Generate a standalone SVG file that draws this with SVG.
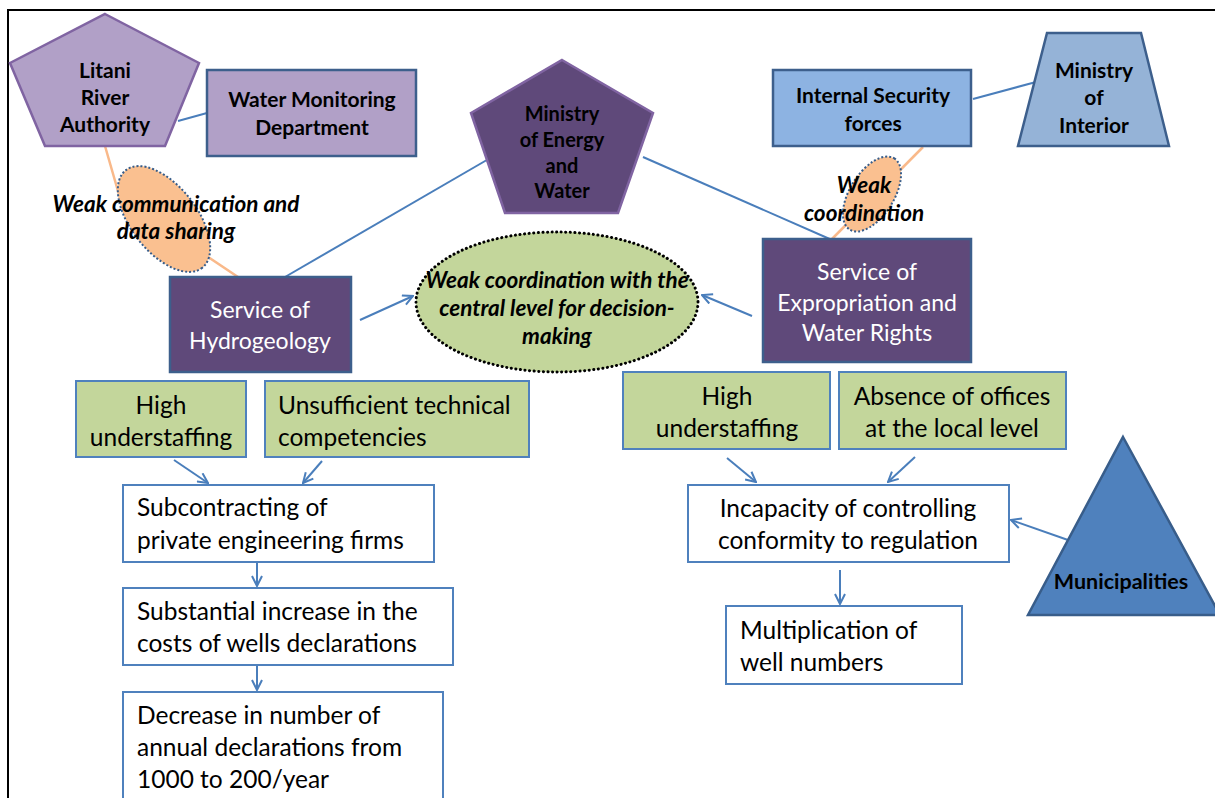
<svg xmlns="http://www.w3.org/2000/svg" width="1215" height="798" viewBox="0 0 1215 798">
<style>
.t{font-family:Lato,"Liberation Sans",sans-serif;fill:#000}
.b{font-weight:bold}
.bi{font-weight:bold;font-style:italic}
.w{fill:#fff}
.c{text-anchor:middle}
.conn{stroke:#4a7ebb;stroke-width:2;fill:none}
.orange{stroke:#f9b98a;stroke-width:2.5;fill:none}
.green{fill:#c3d69b;stroke:#4f81bd;stroke-width:2}
.white{fill:#fff;stroke:#4f81bd;stroke-width:2}
.purple{fill:#5f497a;stroke:#3d5f8c;stroke-width:2.5}
.n{font-size:24.5px}
.wt{font-size:23px}
.it{font-size:22.5px}
</style>
<defs>
<marker id="arr" viewBox="0 0 12 12" refX="11" refY="6" markerWidth="12" markerHeight="12" markerUnits="userSpaceOnUse" orient="auto">
<path d="M1,1 L11,6 L1,11" fill="none" stroke="#4a7ebb" stroke-width="2"/>
</marker>
</defs>
<rect width="1215" height="798" fill="#fff"/>
<path d="M8,798 L8,10 L1215,10" fill="none" stroke="#000" stroke-width="2"/>

<g id="connectors">
<line class="conn" x1="178" y1="121" x2="207" y2="113"/>
<line class="conn" x1="285" y1="277" x2="492" y2="157"/>
<line class="conn" x1="643" y1="157" x2="832" y2="240"/>
<line class="conn" x1="973" y1="99" x2="1036" y2="82"/>
<polyline class="orange" points="105,146 120,198 238,277"/>
<line class="orange" x1="923" y1="147" x2="831" y2="240"/>
<line class="conn" x1="360" y1="320" x2="413" y2="296" marker-end="url(#arr)"/>
<line class="conn" x1="752" y1="316" x2="702" y2="295" marker-end="url(#arr)"/>
<line class="conn" x1="174" y1="460" x2="208" y2="483" marker-end="url(#arr)"/>
<line class="conn" x1="322" y1="461" x2="303" y2="483" marker-end="url(#arr)"/>
<line class="conn" x1="257" y1="563" x2="257" y2="586" marker-end="url(#arr)"/>
<line class="conn" x1="257" y1="666" x2="257" y2="690" marker-end="url(#arr)"/>
<line class="conn" x1="727" y1="458" x2="756" y2="482" marker-end="url(#arr)"/>
<line class="conn" x1="915" y1="457" x2="888" y2="482" marker-end="url(#arr)"/>
<line class="conn" x1="1068" y1="540" x2="1011" y2="520" marker-end="url(#arr)"/>
<line class="conn" x1="840" y1="570" x2="840" y2="604" marker-end="url(#arr)"/>
</g>

<g id="litani">
<polygon points="105,14 199,63 165,146 45,146 10,63" fill="#b1a0c7" stroke="#8064a2" stroke-width="2.5"/>
<text class="t b c" x="105" y="78" font-size="21">Litani</text>
<text class="t b c" x="105" y="105" font-size="21">River</text>
<text class="t b c" x="105" y="132" font-size="21">Authority</text>
</g>

<g id="water-monitoring">
<rect x="207" y="70" width="209" height="86" fill="#b1a0c7" stroke="#3d5f8c" stroke-width="2.5"/>
<text class="t b c" x="312" y="107" font-size="21">Water Monitoring</text>
<text class="t b c" x="312" y="135" font-size="21">Department</text>
</g>

<g id="weak-communication">
<ellipse cx="164" cy="219" rx="62" ry="33" transform="rotate(52 164 219)" fill="#fac090" stroke="#385d8a" stroke-width="2" stroke-dasharray="2 2"/>
<text class="t bi c it" x="176" y="212">Weak communication and</text>
<text class="t bi c it" x="176" y="239">data sharing</text>
</g>

<g id="ministry-energy">
<polygon points="562,60 653,113 618,213 505,213 471,113" fill="#5f497a" stroke="#8064a2" stroke-width="2.5"/>
<text class="t b c" x="562" y="121" font-size="20">Ministry</text>
<text class="t b c" x="562" y="147" font-size="20">of Energy</text>
<text class="t b c" x="562" y="173" font-size="20">and</text>
<text class="t b c" x="562" y="198" font-size="20">Water</text>
</g>

<g id="internal-security">
<rect x="773" y="70" width="198" height="76" fill="#8db3e2" stroke="#3d5f8c" stroke-width="2.5"/>
<text class="t b c" x="873" y="103" font-size="21">Internal Security</text>
<text class="t b c" x="873" y="131" font-size="21">forces</text>
</g>

<g id="ministry-interior">
<polygon points="1047,33 1141,33 1169,146 1018,146" fill="#95b3d7" stroke="#3d5f8c" stroke-width="2.5"/>
<text class="t b c" x="1094" y="78" font-size="21">Ministry</text>
<text class="t b c" x="1094" y="105" font-size="21">of</text>
<text class="t b c" x="1094" y="133" font-size="21">Interior</text>
</g>

<g id="weak-coordination">
<ellipse cx="872" cy="194" rx="42" ry="22" transform="rotate(-58 872 194)" fill="#fac090" stroke="#385d8a" stroke-width="2" stroke-dasharray="2 2"/>
<text class="t bi c it" x="864" y="193">Weak</text>
<text class="t bi c it" x="864" y="221">coordination</text>
</g>

<g id="service-hydrogeology">
<rect class="purple" x="170" y="277" width="181" height="95"/>
<text class="t w c wt" x="260" y="318">Service of</text>
<text class="t w c wt" x="260" y="349">Hydrogeology</text>
</g>

<g id="weak-central">
<ellipse cx="557" cy="302" rx="141" ry="70" fill="#c3d69b" stroke="#000" stroke-width="3" stroke-dasharray="0.1 4.5" stroke-linecap="round"/>
<text class="t bi c it" x="557" y="288">Weak coordination with the</text>
<text class="t bi c it" x="557" y="316">central level for decision-</text>
<text class="t bi c it" x="557" y="344">making</text>
</g>

<g id="service-expropriation">
<rect class="purple" x="763" y="239" width="208" height="123"/>
<text class="t w c wt" x="867" y="280">Service of</text>
<text class="t w c wt" x="867" y="311">Expropriation and</text>
<text class="t w c wt" x="867" y="341">Water Rights</text>
</g>

<g id="high-understaffing-left">
<rect class="green" x="76" y="381" width="170" height="76"/>
<text class="t c n" x="161" y="414">High</text>
<text class="t c n" x="161" y="446">understaffing</text>
</g>

<g id="unsufficient">
<rect class="green" x="265" y="381" width="264" height="76"/>
<text class="t n" x="278" y="414">Unsufficient technical</text>
<text class="t n" x="278" y="446">competencies</text>
</g>

<g id="high-understaffing-right">
<rect class="green" x="623" y="372" width="207" height="77"/>
<text class="t c n" x="727" y="405">High</text>
<text class="t c n" x="727" y="437">understaffing</text>
</g>

<g id="absence-offices">
<rect class="green" x="839" y="372" width="227" height="77"/>
<text class="t c n" x="952" y="405">Absence of offices</text>
<text class="t c n" x="952" y="437">at the local level</text>
</g>

<g id="subcontracting">
<rect class="white" x="123" y="485" width="311" height="77"/>
<text class="t n" x="137" y="516">Subcontracting of</text>
<text class="t n" x="137" y="549">private engineering firms</text>
</g>

<g id="substantial-increase">
<rect class="white" x="123" y="588" width="330" height="77"/>
<text class="t n" x="137" y="620">Substantial increase in the</text>
<text class="t n" x="137" y="652">costs of wells declarations</text>
</g>

<g id="decrease">
<rect class="white" x="123" y="692" width="320" height="120"/>
<text class="t n" x="137" y="724">Decrease in number of</text>
<text class="t n" x="137" y="756">annual declarations from</text>
<text class="t n" x="137" y="788">1000 to 200/year</text>
</g>

<g id="incapacity">
<rect class="white" x="688" y="485" width="321" height="77"/>
<text class="t c n" x="848" y="517">Incapacity of controlling</text>
<text class="t c n" x="848" y="549">conformity to regulation</text>
</g>

<g id="multiplication">
<rect class="white" x="726" y="606" width="236" height="78"/>
<text class="t n" x="740" y="639">Multiplication of</text>
<text class="t n" x="740" y="671">well numbers</text>
</g>

<g id="municipalities">
<polygon points="1123,437 1220,615 1028,615" fill="#4f81bd" stroke="#385d8a" stroke-width="2.5"/>
<text class="t b c" x="1121" y="589" font-size="21.5">Municipalities</text>
</g>
</svg>
